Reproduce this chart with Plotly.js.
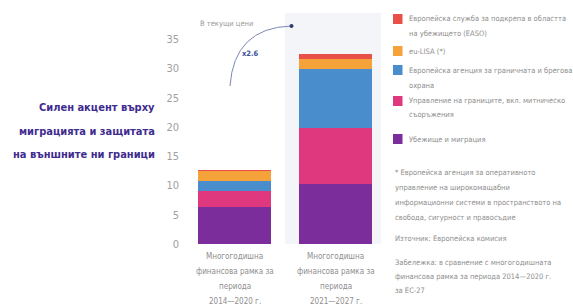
<!DOCTYPE html>
<html><head><meta charset="utf-8">
<script src="https://cdn.plot.ly/plotly-3.0.1.min.js"></script>
<style>body{margin:0;background:#fff}#c{width:573px;height:306px}</style>
</head><body><div id="c"></div>
<script>
const categories = [
  "Многогодишна<br>финансова рамка за<br>периода<br>2014—2020 г.",
  "Многогодишна<br>финансова рамка за<br>периода<br>2021—2027 г."
];
const seriesNames = [
  "Убежище и миграция",
  "Управление на границите, вкл. митническо<br>съоръжения",
  "Европейска агенция за граничната и брегова<br>охрана",
  "eu-LISA (*)",
  "Европейска служба за подкрепа в областта<br>на убежището (EASO)"
];
const migration = [6.3, 10.3];
const borderMgmt = [2.8, 9.6];
const frontex = [1.6, 10.0];
const euLisa = [1.8, 1.7];
const easo = [0.1, 0.9];
const colors = ["#7b2d9b", "#e0387f", "#4a8dcc", "#f5a23a", "#e9504a"];
const yTicks = [0, 5, 10, 15, 20, 25, 30, 35];
const titleLines = ["Силен акцент върху", "миграцията и защитата", "на външните ни граници"];
const footnoteLines = [
  "* Европейска агенция за оперативното",
  "управление на широкомащабни",
  "информационни системи в пространството на",
  "свобода, сигурност и правосъдие"
];
const sourceText = "Източник: Европейска комисия";
const noteLines = [
  "Забележка: в сравнение с многогодишната",
  "финансова рамка за периода 2014—2020 г.",
  "за ЕС-27"
];

const seriesValues = [migration, borderMgmt, frontex, euLisa, easo];
const FONT = "DejaVu Sans Condensed, sans-serif";
const data = seriesValues.map((v, i) => ({
  type: "bar", x: categories, y: v, name: seriesNames[i],
  marker: {color: colors[i]}, hoverinfo: "skip", showlegend: false
}));

const L = 184, W = 202, T = 10, H = 234;
const px = x => (x - L) / W, py = y => (T + H - y) / H;
const GRAY = "#8e8e8e";
const shapes = [
  {type: "rect", xref: "x", yref: "y", x0: 0.5, x1: 1.45, y0: 0, y1: 39.5, layer: "below",
   fillcolor: "#f3f5f8", line: {width: 0}},
  {type: "path", xref: "paper", yref: "paper",
   path: `M ${px(230)} ${py(86)} Q ${px(234)} ${py(28)} ${px(291)} ${py(26)}`,
   line: {color: "#7d87b8", width: 1}},
  {type: "circle", xref: "paper", yref: "paper",
   x0: px(289.5), x1: px(293.5), y0: py(28), y1: py(24),
   fillcolor: "#2f3a70", line: {width: 0}}
];
const annotations = [];
const ann = (x, y, text, opts) => annotations.push(Object.assign({
  xref: "paper", yref: "paper", x: px(x), y: py(y), xanchor: "left", yanchor: "middle",
  showarrow: false, text: text, font: {size: 7.5, color: GRAY}
}, opts || {}));

titleLines.forEach((t, i) => ann(157, 108 + i * 23, "<b>" + t + "</b>",
  {xanchor: "right", font: {size: 11, color: "#3f2c8f", family: FONT}}));
ann(226, 23, "В текущи цени", {xanchor: "center", font: {size: 7.5, color: "#9a9a9a"}});
ann(250, 53, "<b>x2.6</b>", {xanchor: "center", font: {size: 7.5, color: "#3b4f9e"}});

// legend (top to bottom: reversed stacking order)
const legendY = [[19, 33], [51], [70, 85], [101, 115], [139]];
for (let k = 0; k < 5; k++) {
  const i = 4 - k;
  const lines = seriesNames[i].split("<br>");
  const y0 = legendY[k][0];
  shapes.push({type: "rect", xref: "paper", yref: "paper",
    x0: px(393), x1: px(402.5), y0: py(y0 - 5), y1: py(y0 + 5),
    fillcolor: colors[i], line: {width: 0}});
  lines.forEach((t, j) => ann(407, legendY[k][j], t));
}
footnoteLines.forEach((t, i) => ann(393, 172 + i * 15, t));
ann(393, 238, sourceText);
noteLines.forEach((t, i) => ann(393, 262 + i * 14, t));
// category labels
categories.forEach((c, ci) => c.split("<br>").forEach((t, j) =>
  annotations.push({xref: "x", yref: "paper", x: ci, y: py(256 + j * 15), xanchor: "center",
    yanchor: "middle", showarrow: false, text: t, font: {size: 8, color: GRAY}})));

const layout = {
  width: 573, height: 306,
  margin: {l: L, r: 573 - L - W, t: T, b: 306 - T - H},
  paper_bgcolor: "#fff", plot_bgcolor: "rgba(0,0,0,0)",
  barmode: "stack", bargap: 0.28, showlegend: false,
  font: {family: FONT, color: GRAY, size: 8},
  xaxis: {range: [-0.5, 1.5], showgrid: false, zeroline: false, showline: false, ticks: "",
          showticklabels: false},
  yaxis: {range: [0, 40], tickvals: yTicks, showgrid: false, zeroline: false, showline: false,
          ticks: "", tickfont: {size: 11, color: "#a0a0a0"}, ticklabelstandoff: 4},
  shapes: shapes,
  annotations: annotations
};
Plotly.newPlot("c", data, layout, {displayModeBar: false, staticPlot: true});
</script></body></html>
